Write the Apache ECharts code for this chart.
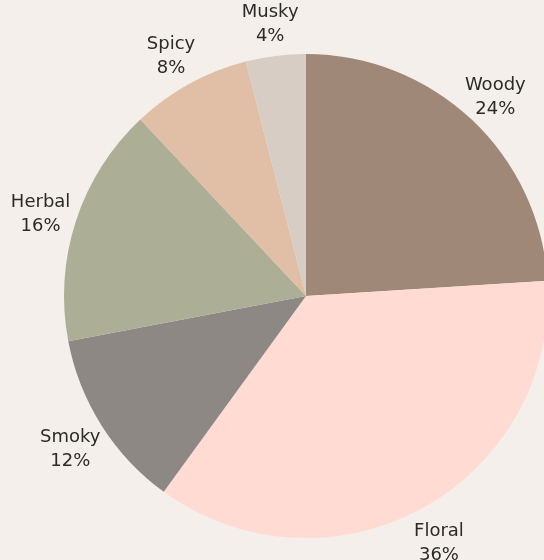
<!DOCTYPE html>
<html>
<head>
<meta charset="utf-8">
<script src="https://cdn.jsdelivr.net/npm/echarts@6/dist/echarts.min.js"></script>
<style>
  html, body { margin: 0; padding: 0; background: #f4efeb; }
  #chart { width: 544px; height: 560px; }
</style>
</head>
<body>
<div id="chart"></div>
<script>
const categories = ['Woody', 'Floral', 'Smoky', 'Herbal', 'Spicy', 'Musky'];
const values = [24, 36, 12, 16, 8, 4];
const colors = ['#a08878', '#ffdbd3', '#8d8883', '#acae96', '#e0bfa6', '#d7cdc5'];

const chart = echarts.init(document.getElementById('chart'));

const pieData = categories.map(function (name, i) {
  return { name: name, value: values[i], itemStyle: { color: colors[i] } };
});

const option = {
  backgroundColor: '#f4efeb',
  animation: false,
  series: [
    {
      type: 'pie',
      center: [306, 296],
      radius: 242,
      startAngle: 90,
      clockwise: true,
      data: pieData,
      label: { show: false },
      labelLine: { show: false },
      emphasis: { disabled: true }
    },
    {
      // invisible ring, only used to put centered labels outside the pie
      type: 'pie',
      center: [305, 300],
      radius: [264, 286],
      startAngle: 90,
      clockwise: true,
      silent: true,
      data: categories.map(function (name, i) {
        return { name: name, value: values[i] };
      }),
      itemStyle: { color: 'rgba(0,0,0,0)' },
      label: {
        show: true,
        position: 'inside',
        formatter: function (p) { return p.name + '\n' + p.value + '%'; },
        color: '#2b2b2b',
        fontFamily: 'DejaVu Sans',
        fontSize: 18,
        lineHeight: 24,
        align: 'center'
      },
      labelLine: { show: false },
      emphasis: { disabled: true }
    }
  ]
};

chart.setOption(option);
</script>
</body>
</html>
